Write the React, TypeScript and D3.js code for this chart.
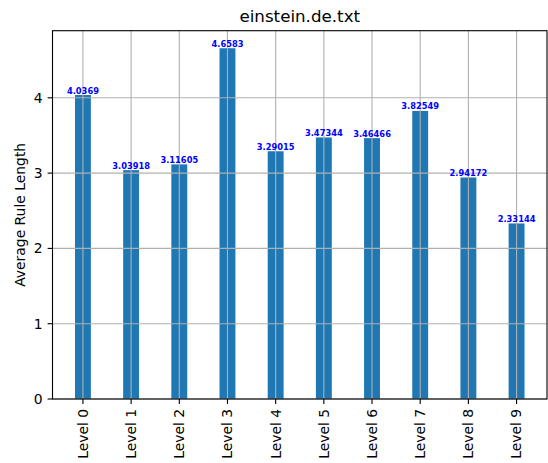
import * as d3 from 'd3';
import { useMemo } from 'react';

const levels = ['Level 0', 'Level 1', 'Level 2', 'Level 3', 'Level 4', 'Level 5', 'Level 6', 'Level 7', 'Level 8', 'Level 9'];
const avgLength = [4.0369, 3.03918, 3.11605, 4.6583, 3.29015, 3.47344, 3.46466, 3.82549, 2.94172, 2.33144];
const valueLabels = ['4.0369', '3.03918', '3.11605', '4.6583', '3.29015', '3.47344', '3.46466', '3.82549', '2.94172', '2.33144'];
const yTicks = [0, 1, 2, 3, 4];

const WIDTH = 548;
const HEIGHT = 463;
const MARGIN = { top: 30.7, right: 1, bottom: 64, left: 52.5 };
const BAR_WIDTH = 0.33;
const FONT = 'DejaVu Sans, sans-serif';

export default function App() {
    const boundsWidth = WIDTH - MARGIN.left - MARGIN.right;
    const boundsHeight = HEIGHT - MARGIN.top - MARGIN.bottom;

    // matplotlib-like autoscale: 5% margins, bottom sticky at 0
    const xScale = useMemo(() => {
        const lo = -BAR_WIDTH / 2;
        const hi = levels.length - 1 + BAR_WIDTH / 2;
        const pad = (hi - lo) * 0.05;
        return d3.scaleLinear().domain([lo - pad, hi + pad]).range([0, boundsWidth]);
    }, [boundsWidth]);

    const yScale = useMemo(() => {
        const yMax = d3.max(avgLength) || 0;
        return d3.scaleLinear().domain([0, yMax * 1.05]).range([boundsHeight, 0]);
    }, [boundsHeight]);

    const barPx = xScale(BAR_WIDTH) - xScale(0);

    return (
        <svg width={WIDTH} height={HEIGHT} style={{ position: 'absolute', left: 0, top: 0, background: '#fff' }}>
            <text x={MARGIN.left + boundsWidth / 2} y={22.4} textAnchor="middle" fontFamily={FONT} fontSize={16.7} fill="#000">
                einstein.de.txt
            </text>
            <g transform={`translate(${MARGIN.left},${MARGIN.top})`}>
                {avgLength.map((v, i) => (
                    <rect
                        key={levels[i]}
                        x={xScale(i) - barPx / 2}
                        y={yScale(v)}
                        width={barPx}
                        height={yScale(0) - yScale(v)}
                        fill="#1f77b4"
                    />
                ))}
                {/* grid sits above the bars */}
                {yTicks.map((t) => (
                    <line key={'gy' + t} x1={0} x2={boundsWidth} y1={yScale(t)} y2={yScale(t)} stroke="#b0b0b0" strokeWidth={1.1} />
                ))}
                {levels.map((l, i) => (
                    <line key={'gx' + l} x1={xScale(i)} x2={xScale(i)} y1={0} y2={boundsHeight} stroke="#b0b0b0" strokeWidth={1.1} />
                ))}
                {avgLength.map((v, i) => (
                    <text
                        key={'lab' + i}
                        x={xScale(i)}
                        y={yScale(v) - 1.5}
                        textAnchor="middle"
                        fontFamily={FONT}
                        fontWeight="bold"
                        fontSize={8.3}
                        fill="#0000ff"
                    >
                        {valueLabels[i]}
                    </text>
                ))}
                <rect x={0} y={0} width={boundsWidth} height={boundsHeight} fill="none" stroke="#000" strokeWidth={1.1} />
                {yTicks.map((t) => (
                    <g key={'yt' + t} transform={`translate(0,${yScale(t)})`}>
                        <line x1={-4.9} x2={0} stroke="#000" strokeWidth={1.1} />
                        <text x={-9.8} dy="0.35em" textAnchor="end" fontFamily={FONT} fontSize={13.9} fill="#000">
                            {t}
                        </text>
                    </g>
                ))}
                {levels.map((l, i) => (
                    <g key={'xt' + l} transform={`translate(${xScale(i)},${boundsHeight})`}>
                        <line y1={0} y2={4.9} stroke="#000" strokeWidth={1.1} />
                        <text
                            transform="translate(0,9.8) rotate(-90)"
                            textAnchor="end"
                            dy="0.35em"
                            fontFamily={FONT}
                            fontSize={13.9}
                            fill="#000"
                        >
                            {l}
                        </text>
                    </g>
                ))}
                <text
                    transform={`translate(-28,${boundsHeight / 2}) rotate(-90)`}
                    textAnchor="middle"
                    fontFamily={FONT}
                    fontSize={13.9}
                    fill="#000"
                >
                    Average Rule Length
                </text>
            </g>
        </svg>
    );
}
